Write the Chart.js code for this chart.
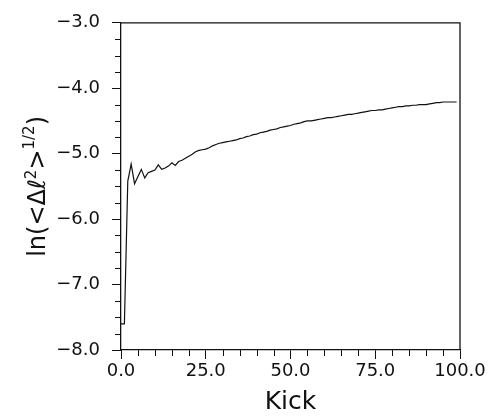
<!DOCTYPE html>
<html>
<head>
<meta charset="utf-8">
<script src="https://cdn.jsdelivr.net/npm/chart.js@4/dist/chart.umd.min.js"></script>
<style>
  html, body { margin: 0; padding: 0; background: #fff; }
  #wrap { width: 491px; height: 419px; }
</style>
</head>
<body>
<div id="wrap"><canvas id="c" width="491" height="419"></canvas></div>
<script>
// ---- data ----
const kicks = [
  0,1,2,3,4,5,6,7,8,9,10,11,12,13,14,15,16,17,18,19,
  20,21,22,23,24,25,26,27,28,29,30,31,32,33,34,35,36,37,38,39,
  40,41,42,43,44,45,46,47,48,49,50,51,52,53,54,55,56,57,58,59,
  60,61,62,63,64,65,66,67,68,69,70,71,72,73,74,75,76,77,78,79,
  80,81,82,83,84,85,86,87,88,89,90,91,92,93,94,95,96,97,98,99
];
const lnSpread = [
  -7.60,-7.60,-5.42,-5.16,-5.46,-5.35,-5.24,-5.37,-5.29,-5.27,
  -5.25,-5.17,-5.24,-5.22,-5.19,-5.14,-5.18,-5.12,-5.10,-5.07,
  -5.04,-5.01,-4.97,-4.95,-4.94,-4.93,-4.91,-4.88,-4.86,-4.84,
  -4.83,-4.82,-4.81,-4.80,-4.79,-4.77,-4.76,-4.74,-4.73,-4.71,
  -4.70,-4.68,-4.67,-4.66,-4.64,-4.63,-4.62,-4.60,-4.59,-4.58,
  -4.57,-4.55,-4.54,-4.53,-4.51,-4.50,-4.50,-4.49,-4.48,-4.47,
  -4.46,-4.45,-4.45,-4.44,-4.43,-4.42,-4.41,-4.40,-4.40,-4.39,
  -4.38,-4.37,-4.36,-4.35,-4.34,-4.34,-4.33,-4.33,-4.32,-4.31,
  -4.30,-4.29,-4.28,-4.28,-4.27,-4.27,-4.26,-4.26,-4.25,-4.25,
  -4.25,-4.24,-4.23,-4.22,-4.22,-4.21,-4.21,-4.21,-4.21,-4.21
];
const xMajorTicks = [0, 25, 50, 75, 100];
const yMajorTicks = [-8, -7, -6, -5, -4, -3];
const xMinorTicks = [5,10,15,20,30,35,40,45,55,60,65,70,80,85,90,95];
const yMinorTicks = [-7.75,-7.5,-7.25,-6.75,-6.5,-6.25,-5.75,-5.5,-5.25,-4.75,-4.5,-4.25,-3.75,-3.5,-3.25];
const xTitle = 'Kick';

const INK = '#111';
const FONT = '"DejaVu Sans", sans-serif';

function fmt(v) {
  return (v < 0 ? '\u2212' : '') + Math.abs(v).toFixed(1);
}

const extras = {
  id: 'extras',
  afterDraw(chart) {
    const { ctx, chartArea: a, scales: { x, y } } = chart;
    ctx.save();
    // frame (top and right sides)
    ctx.strokeStyle = INK;
    ctx.lineWidth = 1.3;
    ctx.beginPath();
    ctx.moveTo(a.left, a.top);
    ctx.lineTo(a.right, a.top);
    ctx.lineTo(a.right, a.bottom);
    ctx.stroke();
    // minor ticks
    ctx.lineWidth = 1;
    ctx.beginPath();
    for (const v of yMinorTicks) {
      const py = Math.round(y.getPixelForValue(v)) + 0.5;
      ctx.moveTo(a.left - 6, py); ctx.lineTo(a.left, py);
    }
    for (const v of xMinorTicks) {
      const px = Math.round(x.getPixelForValue(v)) + 0.5;
      ctx.moveTo(px, a.bottom); ctx.lineTo(px, a.bottom + 6);
    }
    ctx.stroke();
    // y axis label with superscripts
    const parts = [
      { t: 'ln(<\u0394\u2113', s: 24, r: 0 },
      { t: '2', s: 15, r: 9 },
      { t: '>', s: 24, r: 0 },
      { t: '1/2', s: 15, r: 11 },
      { t: ')', s: 24, r: 0 }
    ];
    let total = 0;
    for (const p of parts) { ctx.font = p.s + 'px ' + FONT; p.w = ctx.measureText(p.t).width; total += p.w; }
    ctx.translate(45, (a.top + a.bottom) / 2);
    ctx.rotate(-Math.PI / 2);
    ctx.fillStyle = INK;
    ctx.textBaseline = 'alphabetic';
    ctx.textAlign = 'left';
    let cx = -total / 2;
    for (const p of parts) {
      ctx.font = p.s + 'px ' + FONT;
      ctx.fillText(p.t, cx, -p.r);
      cx += p.w;
    }
    ctx.restore();
  }
};

new Chart(document.getElementById('c'), {
  type: 'line',
  data: {
    datasets: [{
      data: kicks.map((k, i) => ({ x: k, y: lnSpread[i] })),
      borderColor: INK,
      borderWidth: 1.2,
      pointRadius: 0,
      tension: 0,
      fill: false
    }]
  },
  options: {
    responsive: false,
    animation: false,
    devicePixelRatio: 1,
    layout: { padding: { top: 14, right: 31, left: 0, bottom: 0 } },
    plugins: { legend: { display: false }, tooltip: { enabled: false } },
    scales: {
      x: {
        type: 'linear',
        min: 0, max: 100,
        afterBuildTicks: (s) => { s.ticks = xMajorTicks.map(v => ({ value: v })); },
        afterFit: (s) => { s.height = 69; },
        ticks: { callback: (v) => fmt(v), color: INK, font: { family: FONT, size: 18 }, padding: 2, maxRotation: 0, autoSkip: false },
        grid: { drawOnChartArea: false, drawTicks: true, tickLength: 9, color: INK, lineWidth: 1 },
        border: { display: true, color: INK, width: 1.3 },
        title: { display: true, text: xTitle, color: INK, font: { family: FONT, size: 25 }, padding: { top: 0, bottom: 2 } }
      },
      y: {
        type: 'linear',
        min: -8, max: -3,
        afterBuildTicks: (s) => { s.ticks = yMajorTicks.map(v => ({ value: v })); },
        afterFit: (s) => { s.width = 121; },
        ticks: { callback: (v) => fmt(v), color: INK, font: { family: FONT, size: 18 }, padding: 12, autoSkip: false },
        grid: { drawOnChartArea: false, drawTicks: true, tickLength: 9, color: INK, lineWidth: 1 },
        border: { display: true, color: INK, width: 1.3 }
      }
    }
  },
  plugins: [extras]
});
</script>
</body>
</html>
